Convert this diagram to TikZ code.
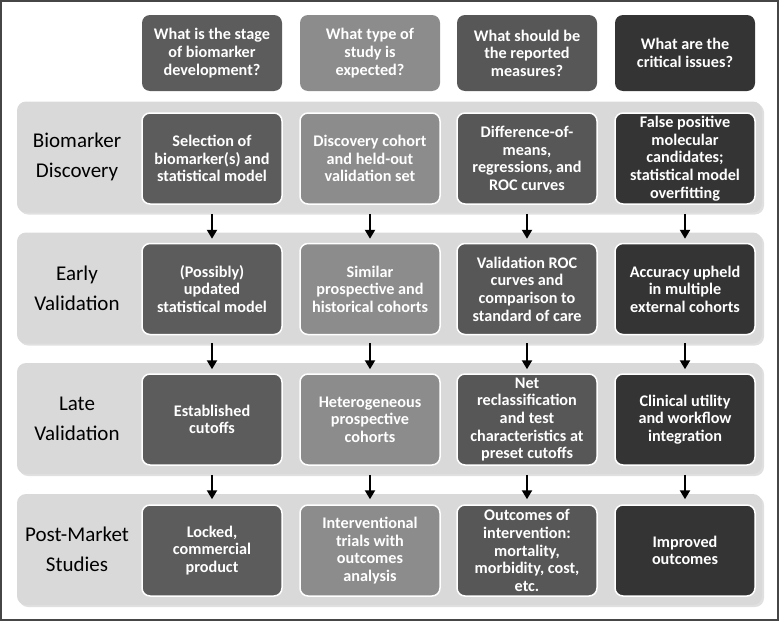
\documentclass[tikz,border=0pt]{standalone}
\usepackage{fontspec}
\setmainfont{Carlito}
\usetikzlibrary{arrows.meta,shadows}
\definecolor{stageclr}{RGB}{92,92,92}
\definecolor{studyclr}{RGB}{140,140,140}
\definecolor{measclr}{RGB}{87,87,87}
\definecolor{issueclr}{RGB}{52,52,52}
\definecolor{bandclr}{RGB}{217,217,217}
\definecolor{frameclr}{RGB}{70,70,70}

\begin{document}
\begin{tikzpicture}[x=1pt,y=-1pt]
\tikzstyle{cell}=[rounded corners=8pt, draw=white, line width=1.5pt, minimum width=140pt, minimum height=91pt, text=white, font=\bfseries\fontsize{16.2}{17.6}\selectfont, align=center, inner sep=2pt]
\tikzstyle{head}=[cell, minimum height=76pt, draw=none]
\tikzstyle{band}=[rounded corners=9pt, fill=bandclr, minimum width=745pt, minimum height=111pt, drop shadow={shadow xshift=2pt, shadow yshift=-2pt, fill=black!12, opacity=1}]
\tikzstyle{phase}=[font=\fontsize{21}{30}\selectfont, align=center]
\tikzstyle{down}=[line width=2.6pt, -{Triangle[width=10pt,length=9pt]}]
\useasboundingbox (0,0) rectangle (779,621);
\draw [frameclr, line width=1.3pt] (1,1) rectangle (778,620);
% column heads
\node [head, fill=stageclr] (h1) at (212,53) {What is the stage\\of biomarker\\development?};
\node [head, fill=studyclr] (h2) at (370,53) {What type of\\study is\\expected?};
\node [head, fill=measclr] (h3) at (527,53) {What should be\\the reported\\measures?};
\node [head, fill=issueclr] (h4) at (685,53) {What are the\\critical issues?};
% bands
\node [band] (b1) at (389.5,157) {};
\node [band] (b2) at (389.5,288) {};
\node [band] (b3) at (389.5,418.5) {};
\node [band] (b4) at (389.5,549.5) {};
\node [phase] (p1) at (77,157) {Biomarker\\Discovery};
\node [phase] (p2) at (77,288) {Early\\Validation};
\node [phase] (p3) at (77,418.5) {Late\\Validation};
\node [phase] (p4) at (77,549.5) {Post-Market\\Studies};
% discovery
\node [cell, fill=stageclr] (r1c1) at (212,158.5) {Selection of\\biomarker(s) and\\statistical model};
\node [cell, fill=studyclr] (r1c2) at (370,158.5) {Discovery cohort\\and held-out\\validation set};
\node [cell, fill=measclr] (r1c3) at (527,158.5) {Difference-of-\\means,\\regressions, and\\ROC curves};
\node [cell, fill=issueclr] (r1c4) at (685,158.5) {False positive\\molecular\\candidates;\\statistical model\\overfitting};
% early validation
\node [cell, fill=stageclr] (r2c1) at (212,289) {(Possibly)\\updated\\statistical model};
\node [cell, fill=studyclr] (r2c2) at (370,289) {Similar\\prospective and\\historical cohorts};
\node [cell, fill=measclr] (r2c3) at (527,289) {Validation ROC\\curves and\\comparison to\\standard of care};
\node [cell, fill=issueclr] (r2c4) at (685,289) {Accuracy upheld\\in multiple\\external cohorts};
% late validation
\node [cell, fill=stageclr] (r3c1) at (212,419.5) {Established\\cutoffs};
\node [cell, fill=studyclr] (r3c2) at (370,419.5) {Heterogeneous\\prospective\\cohorts};
\node [cell, fill=measclr] (r3c3) at (527,419.5) {Net\\reclassification\\and test\\characteristics at\\preset cutoffs};
\node [cell, fill=issueclr] (r3c4) at (685,419.5) {Clinical utility\\and workflow\\integration};
% post-market
\node [cell, fill=stageclr] (r4c1) at (212,550.5) {Locked,\\commercial\\product};
\node [cell, fill=studyclr] (r4c2) at (370,550.5) {Interventional\\trials with\\outcomes\\analysis};
\node [cell, fill=measclr] (r4c3) at (527,550.5) {Outcomes of\\intervention:\\mortality,\\morbidity, cost,\\etc.};
\node [cell, fill=issueclr] (r4c4) at (685,550.5) {Improved\\outcomes};
% arrows
\draw [down] ([yshift=-9pt]r1c1.south) -- ([yshift=4pt]r2c1.north);
\draw [down] ([yshift=-9pt]r1c2.south) -- ([yshift=4pt]r2c2.north);
\draw [down] ([yshift=-9pt]r1c3.south) -- ([yshift=4pt]r2c3.north);
\draw [down] ([yshift=-9pt]r1c4.south) -- ([yshift=4pt]r2c4.north);
\draw [down] ([yshift=-8pt]r2c1.south) -- ([yshift=4pt]r3c1.north);
\draw [down] ([yshift=-8pt]r2c2.south) -- ([yshift=4pt]r3c2.north);
\draw [down] ([yshift=-8pt]r2c3.south) -- ([yshift=4pt]r3c3.north);
\draw [down] ([yshift=-8pt]r2c4.south) -- ([yshift=4pt]r3c4.north);
\draw [down] ([yshift=-9pt]r3c1.south) -- ([yshift=5pt]r4c1.north);
\draw [down] ([yshift=-9pt]r3c2.south) -- ([yshift=5pt]r4c2.north);
\draw [down] ([yshift=-9pt]r3c3.south) -- ([yshift=5pt]r4c3.north);
\draw [down] ([yshift=-9pt]r3c4.south) -- ([yshift=5pt]r4c4.north);
\end{tikzpicture}
\end{document}
